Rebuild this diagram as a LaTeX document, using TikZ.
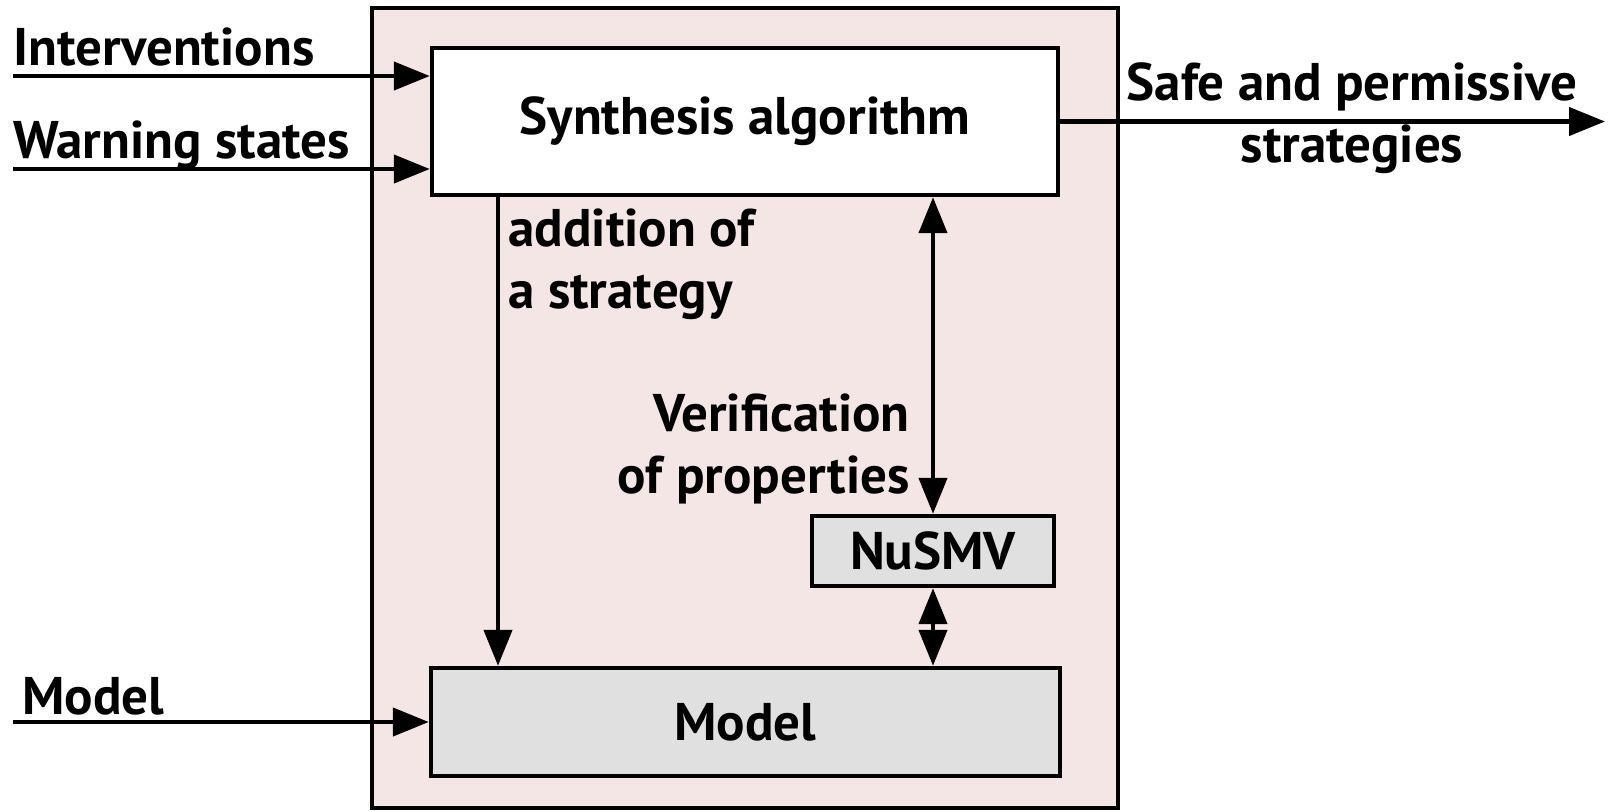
\documentclass[tikz,border=0pt]{standalone}
\usepackage{fontspec}
\setmainfont{PT Sans}
\usetikzlibrary{arrows.meta}

\definecolor{shellpink}{RGB}{245,230,230}
\definecolor{boxgray}{RGB}{224,224,224}

\tikzset{
  blk/.style={draw, line width=2.2pt, inner sep=0pt, font=\bfseries\fontsize{26.5}{31}\selectfont},
  lbl/.style={inner sep=0pt, font=\bfseries\fontsize{26.5}{31}\selectfont},
  flow/.style={line width=2.2pt, -{Triangle[length=18pt,width=14pt]}},
  flowboth/.style={line width=2.2pt, {Triangle[length=18pt,width=14pt]}-{Triangle[length=18pt,width=14pt]}},
}

\begin{document}
\begin{tikzpicture}[x=0.5pt,y=0.5pt,yscale=-1]
\useasboundingbox (0,0) rectangle (1608,811);

%Shape: Rectangle (tool boundary)
\draw[line width=2.2pt, fill=shellpink] (372,8) rectangle (1118,808);

% Blocks
\node[blk, fill=white, minimum width=313pt, minimum height=73.5pt] (synth) at (745,121.5) {Synthesis algorithm};
\node[blk, fill=boxgray, minimum width=121pt, minimum height=35pt] (nusmv) at (933,551) {NuSMV};
\node[blk, fill=boxgray, minimum width=314.5pt, minimum height=54pt] (model) at (745.5,722) {Model};

% Free ends
\coordinate (inInt) at (13,76);
\coordinate (inWarn) at (13,169);
\coordinate (inModel) at (13,722);
\coordinate (outSafe) at (1605,121.5);
\coordinate (addx) at (498,400);

% Inputs and output
\draw[flow] (inInt) -- (synth.west |- inInt);
\draw[flow] (inWarn) -- (synth.west |- inWarn);
\draw[flow] (inModel) -- (model.west);
\draw[flow] (synth.east) -- (outSafe);

% Inner connectors
\draw[flow] (synth.south -| addx) -- (model.north -| addx);
\draw[flowboth] (synth.south -| nusmv) -- (nusmv.north);
\draw[flowboth] (nusmv.south) -- (model.north -| nusmv);

% Text Node
\node[lbl, anchor=base west] (tInt) at (13,65) {Interventions};
% Text Node
\node[lbl, anchor=base west] (tWarn) at (13,158) {Warning states};
% Text Node
\node[lbl, anchor=base west] (tModel) at (22,714) {Model};
% Text Node (base is the last line)
\node[lbl, anchor=base, align=center] (tSafe) at (1352,162) {Safe and permissive\\strategies};
% Text Node
\node[lbl, anchor=base west, align=left] (tAdd) at (508,308) {addition of\\a strategy};
% Text Node
\node[lbl, anchor=base east, align=right] (tVer) at (910,493) {Verification\\of properties};

\end{tikzpicture}
\end{document}
